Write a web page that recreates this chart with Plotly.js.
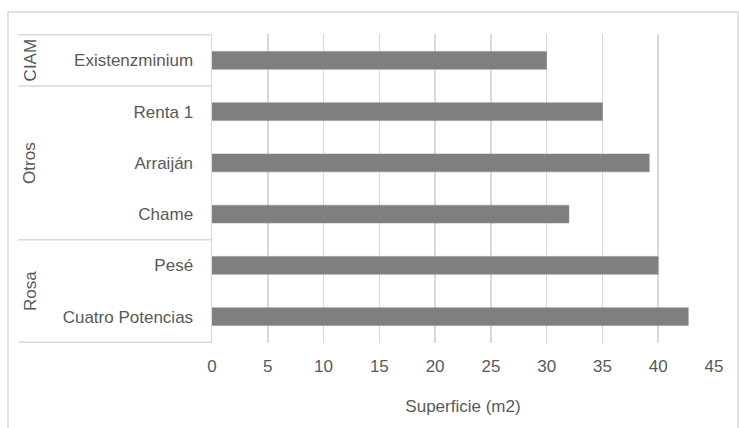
<!DOCTYPE html>
<html>
<head>
<meta charset="utf-8">
<script src="https://cdn.plot.ly/plotly-3.0.1.min.js"></script>
<style>html,body{margin:0;padding:0;background:#fff;overflow:hidden}</style>
</head>
<body>
<div id="chart" style="width:739px;height:428px"></div>
<script>
// Data (top to bottom as in the reference)
const categories = ["Existenzminium", "Renta 1", "Arraiján", "Chame", "Pesé", "Cuatro Potencias"];
const values = [30, 35, 39.2, 32, 40, 42.7];
const groupNames = ["CIAM", "Otros", "Rosa"];
const groupSizes = [1, 3, 2];
const xTicks = [0, 5, 10, 15, 20, 25, 30, 35, 40, 45];
const xTitle = "Superficie (m2)";

const fontFam = "Liberation Sans, Arial, sans-serif";
const textColor = "#595959";
const lineColor = "#d9d9d9";
const fs = 17;

const L = 212, R = 714, T = 34, B = 343;
const plotW = R - L, plotH = B - T;

const shapes = [];
const annotations = [];
let start = 0;
const sepX0 = -(L - 18) / plotW;
shapes.push({type: "line", xref: "paper", yref: "y", x0: sepX0, x1: 0, y0: -0.5, y1: -0.5,
  line: {color: lineColor, width: 1.5}});
groupSizes.forEach((n, i) => {
  const end = start + n;
  shapes.push({type: "line", xref: "paper", yref: "y", x0: sepX0, x1: 0, y0: end - 0.5, y1: end - 0.5,
    line: {color: lineColor, width: 1.5}});
  annotations.push({xref: "paper", yref: "y", x: -(L - 30) / plotW, y: (start + end - 1) / 2,
    text: groupNames[i], textangle: -90, showarrow: false, xanchor: "center", yanchor: "middle",
    font: {family: fontFam, size: fs, color: textColor}});
  start = end;
});
// outer chart border
shapes.push({type: "rect", xref: "paper", yref: "paper", layer: "below",
  x0: (8 - L) / plotW, x1: (738 - L) / plotW, y0: (B - 440) / plotH, y1: (B - 12) / plotH,
  line: {color: lineColor, width: 1.5}, fillcolor: "rgba(0,0,0,0)"});

const trace = {
  type: "bar", orientation: "h",
  y: categories, x: values,
  marker: {color: "#7f7f7f", line: {color: "#8c8c8c", width: 0.5}},
  width: 0.35,
  hoverinfo: "x+y"
};

const layout = {
  width: 739, height: 428,
  margin: {l: L, r: 739 - R, t: T, b: 428 - B},
  paper_bgcolor: "#fff", plot_bgcolor: "#fff",
  showlegend: false,
  font: {family: fontFam, size: fs, color: textColor},
  xaxis: {
    range: [0, 45], tickvals: xTicks, ticktext: xTicks.map(String),
    showgrid: true, gridcolor: lineColor, gridwidth: 1.5,
    zeroline: false, showline: false,
    ticks: "outside", ticklen: 8, tickcolor: "rgba(0,0,0,0)",
    tickfont: {family: fontFam, size: fs, color: textColor},
    title: {text: xTitle, font: {family: fontFam, size: fs, color: textColor}, standoff: 24},
    fixedrange: true
  },
  yaxis: {
    type: "category", autorange: "reversed",
    showgrid: false, zeroline: false,
    showline: true, linecolor: lineColor, linewidth: 1.5,
    ticks: "outside", ticklen: 14, tickcolor: "rgba(0,0,0,0)",
    tickfont: {family: fontFam, size: fs, color: textColor},
    fixedrange: true
  },
  shapes: shapes,
  annotations: annotations
};

Plotly.newPlot("chart", [trace], layout, {displayModeBar: false, staticPlot: true});
</script>
</body>
</html>
